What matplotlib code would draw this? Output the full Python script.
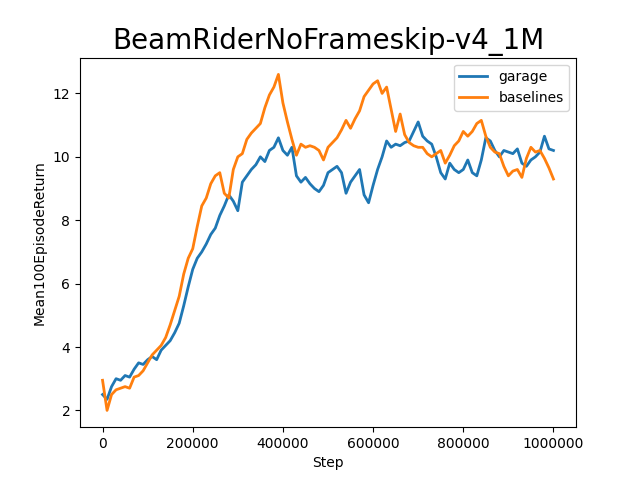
import numpy as np
import matplotlib
matplotlib.use("Agg")
import matplotlib.pyplot as plt

steps = np.arange(0, 1000001, 10000)

garage = [
    2.5, 2.35, 2.75, 3.0, 2.95, 3.1, 3.05, 3.3, 3.5, 3.45,
    3.6, 3.7, 3.6, 3.9, 4.05, 4.2, 4.45, 4.75, 5.3, 5.9,
    6.45, 6.8, 7.0, 7.25, 7.55, 7.75, 8.15, 8.45, 8.8, 8.6,
    8.3, 9.2, 9.4, 9.6, 9.75, 10.0, 9.85, 10.2, 10.3, 10.6,
    10.2, 10.05, 10.3, 9.4, 9.2, 9.35, 9.15, 9.0, 8.9, 9.1,
    9.5, 9.6, 9.7, 9.5, 8.85, 9.2, 9.4, 9.6, 8.8, 8.55,
    9.1, 9.6, 10.0, 10.5, 10.3, 10.4, 10.35, 10.45, 10.5, 10.8,
    11.1, 10.65, 10.5, 10.4, 10.0, 9.5, 9.3, 9.8, 9.6, 9.5,
    9.6, 9.9, 9.5, 9.4, 9.9, 10.6, 10.5, 10.2, 10.0, 10.2,
    10.15, 10.1, 10.25, 9.8, 9.7, 9.9, 10.0, 10.15, 10.65, 10.25,
    10.2,
]

baselines = [
    2.95, 2.0, 2.5, 2.65, 2.7, 2.75, 2.7, 3.05, 3.1, 3.25,
    3.5, 3.75, 3.9, 4.05, 4.3, 4.7, 5.15, 5.6, 6.3, 6.8,
    7.1, 7.8, 8.45, 8.7, 9.15, 9.4, 9.5, 8.85, 8.7, 9.6,
    10.0, 10.1, 10.55, 10.75, 10.9, 11.05, 11.55, 11.95, 12.2, 12.6,
    11.7, 11.1, 10.55, 10.05, 10.4, 10.3, 10.35, 10.3, 10.2, 9.9,
    10.3, 10.45, 10.6, 10.85, 11.15, 10.9, 11.2, 11.45, 11.9, 12.1,
    12.3, 12.4, 12.0, 12.2, 11.5, 10.8, 11.35, 10.7, 10.45, 10.35,
    10.3, 10.3, 10.1, 10.0, 10.1, 10.2, 9.8, 10.05, 10.35, 10.5,
    10.8, 10.65, 10.8, 11.05, 11.15, 10.65, 10.3, 10.15, 10.1, 9.7,
    9.4, 9.55, 9.6, 9.35, 9.95, 10.3, 10.15, 10.2, 9.95, 9.65,
    9.3,
]

fig, ax = plt.subplots(figsize=(6.4, 4.8), dpi=100)
ax.plot(steps, garage, label="garage", linewidth=2)
ax.plot(steps, baselines, label="baselines", linewidth=2)
ax.ticklabel_format(style="plain", axis="x")
ax.set_title("BeamRiderNoFrameskip-v4_1M", fontsize=20)
ax.set_xlabel("Step")
ax.set_ylabel("Mean100EpisodeReturn")
ax.legend(loc="upper right")
fig.savefig("out.png")
